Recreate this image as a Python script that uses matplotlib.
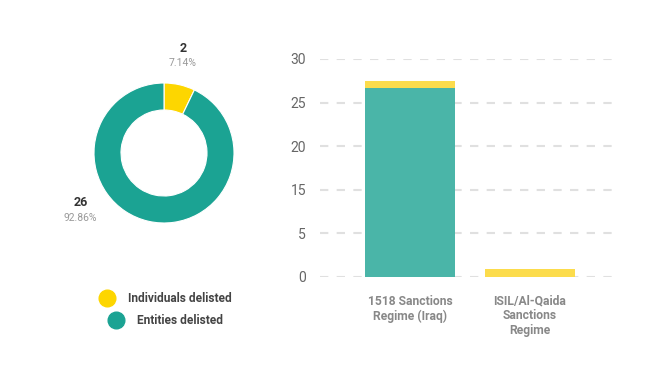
import numpy as np
import matplotlib.pyplot as plt
from matplotlib.lines import Line2D

plt.rcParams['font.family'] = ['Roboto', 'DejaVu Sans']

regimes = ['1518 Sanctions\nRegime (Iraq)', 'ISIL/Al-Qaida\nSanctions\nRegime']
entities = [26, 0]
individuals = [1, 1]
series_names = ['Individuals delisted', 'Entities delisted']
# the source chart labels six evenly spaced gridlines like this
ytick_pos = [0, 6, 12, 18, 24, 30]
ytick_labels = ['0', '5', '15', '20', '25', '30']

yellow_pie = '#fdd600'
teal_pie = '#1ba393'
yellow_bar = '#fcdc4c'
teal_bar = '#4ab5a8'

W, H = 655, 375
fig = plt.figure(figsize=(W / 100, H / 100), dpi=100)

def fx(px):
    return px / W

def fy(py):
    return 1 - py / H

# donut
cx, cy, r = 164, 153, 70
half = 100
ax1 = fig.add_axes([fx(cx - half), fy(cy + half), 2 * half / W, 2 * half / H])
tot = [sum(individuals), sum(entities)]
ax1.pie(tot, colors=[yellow_pie, teal_pie], startangle=90, counterclock=False,
        radius=1, wedgeprops=dict(width=27 / 70, edgecolor='white', linewidth=0.8))
ax1.set_xlim(-half / r, half / r)
ax1.set_ylim(-half / r, half / r)
ax1.set_aspect('equal')
ax1.axis('off')

pct = [v / sum(tot) * 100 for v in tot]
fig.text(fx(183), fy(48), str(tot[0]), ha='center', va='center', fontsize=9,
         fontweight='bold', color='#333333')
fig.text(fx(183), fy(63), f'{pct[0]:.2f}%', ha='center', va='center', fontsize=7.5,
         color='#999999')
fig.text(fx(81), fy(203), str(tot[1]), ha='center', va='center', fontsize=9,
         fontweight='bold', color='#333333')
fig.text(fx(80), fy(218), f'{pct[1]:.2f}%', ha='center', va='center', fontsize=7.5,
         color='#999999')

# legend
leg_pos = [(107, 298), (116, 320)]
for (lx, ly), name, c in zip(leg_pos, series_names, [yellow_pie, teal_pie]):
    fig.add_artist(Line2D([fx(lx)], [fy(ly)], marker='o', markersize=12,
                          color=c, transform=fig.transFigure))
    fig.text(fx(lx + 21), fy(ly), name, ha='left', va='center', fontsize=8.6,
             fontweight='bold', color='#444444')

# stacked bars
ax2 = fig.add_axes([fx(320), fy(276.7), fx(620) - fx(320), (276.7 - 59) / H])
x = np.arange(len(regimes))
ax2.bar(x, entities, width=0.75, color=teal_bar, zorder=3)
ax2.bar(x, individuals, bottom=entities, width=0.75, color=yellow_bar, zorder=3)
ax2.set_xlim(-0.75, 1.75)
ax2.set_ylim(0, 30)
ax2.set_yticks(ytick_pos)
ax2.set_yticklabels(ytick_labels)
ax2.tick_params(axis='y', length=0, pad=10, labelsize=10, labelcolor='#666666')
ax2.tick_params(axis='x', length=0, pad=13)
ax2.set_xticks(x)
ax2.set_xticklabels(regimes, fontsize=8.7, fontweight='bold', color='#888888',
                    linespacing=1.15)
ax2.yaxis.grid(True, linestyle=(0, (4, 4)), color='#e0e0e0', linewidth=1.5, zorder=0)
ax2.set_axisbelow(True)
for s in ax2.spines.values():
    s.set_visible(False)

fig.savefig('out.png', dpi=100)
